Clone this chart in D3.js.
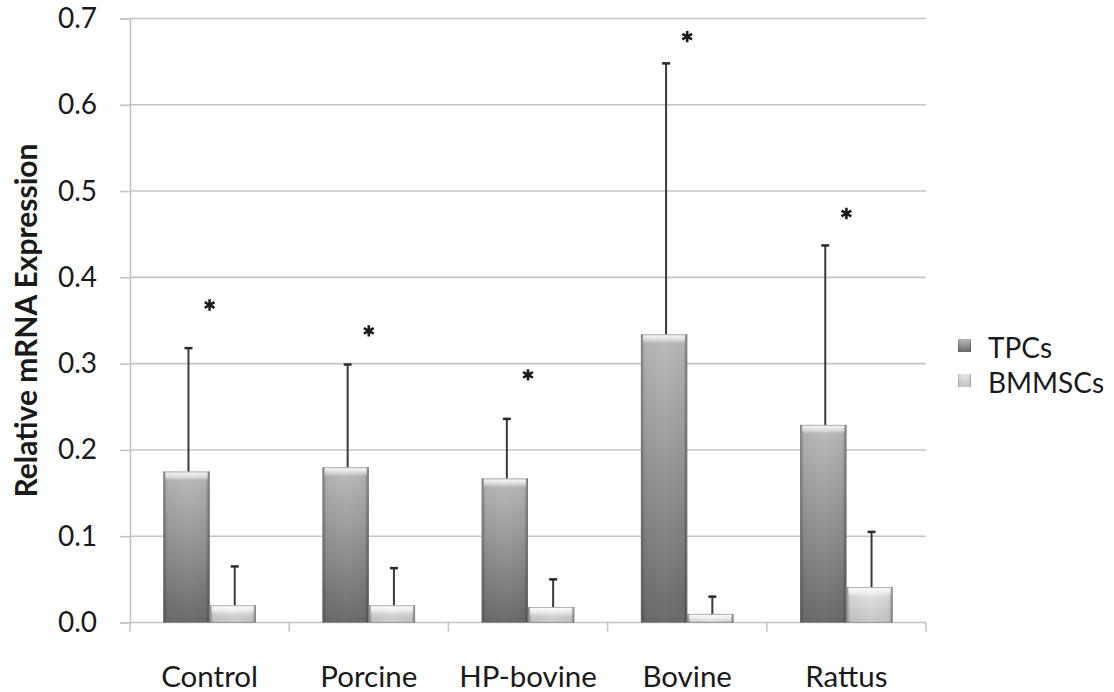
<!DOCTYPE html>
<html>
<head>
<meta charset="utf-8">
<script src="https://cdn.jsdelivr.net/npm/d3@7"></script>
<style>
  body { margin: 0; background: #fff; }
  text { font-family: Lato, "Open Sans", sans-serif; fill: #1a1a1a; }
</style>
</head>
<body>
<svg id="chart"></svg>
<script>
// data
const categories = ['Control', 'Porcine', 'HP-bovine', 'Bovine', 'Rattus'];
const seriesNames = ['TPCs', 'BMMSCs'];
const tpcValues = [0.175, 0.180, 0.167, 0.334, 0.229];
const tpcErrors = [0.143, 0.119, 0.069, 0.314, 0.208];
const bmValues = [0.020, 0.020, 0.018, 0.010, 0.041];
const bmErrors = [0.045, 0.043, 0.032, 0.020, 0.064];
const starLevels = [0.368, 0.338, 0.287, 0.679, 0.474];
const yTicks = [0, 0.1, 0.2, 0.3, 0.4, 0.5, 0.6, 0.7];

const config = {
    width: 1114,
    height: 692,
    margin: { top: 18.5, right: 188, bottom: 69.5, left: 130 }
};
const innerW = config.width - config.margin.left - config.margin.right;
const innerH = config.height - config.margin.top - config.margin.bottom;

const svg = d3.select('#chart')
    .attr('width', config.width)
    .attr('height', config.height);

// gradients for the bevelled bars
const defs = svg.append('defs');
function vGrad(id, stops) {
    const g = defs.append('linearGradient').attr('id', id)
        .attr('x1', 0).attr('y1', 0).attr('x2', 0).attr('y2', 1);
    stops.forEach(s => g.append('stop').attr('offset', s[0]).attr('stop-color', s[1]));
}
vGrad('grad-tpc', [[0, '#bdbdbd'], [1, '#6c6c6c']]);
vGrad('grad-bm', [[0, '#e8e8e8'], [1, '#c6c6c6']]);
const side = defs.append('linearGradient').attr('id', 'grad-side')
    .attr('x1', 0).attr('y1', 0).attr('x2', 1).attr('y2', 0);
[[0, 0.35], [0.08, 0.05], [0.5, 0], [0.92, 0.05], [1, 0.4]].forEach(s =>
    side.append('stop').attr('offset', s[0]).attr('stop-color', '#000').attr('stop-opacity', s[1]));
const bevel = defs.append('linearGradient').attr('id', 'grad-bevel')
    .attr('x1', 0).attr('y1', 0).attr('x2', 0).attr('y2', 1);
[[0, 0.95], [0.6, 0.5], [1, 0]].forEach(s =>
    bevel.append('stop').attr('offset', s[0]).attr('stop-color', '#fff').attr('stop-opacity', s[1]));

const chart = svg.append('g')
    .attr('transform', `translate(${config.margin.left},${config.margin.top})`);

const yScale = d3.scaleLinear().domain([0, 0.7]).range([innerH, 0]);
const xScale = d3.scaleBand().domain(categories).range([0, innerW]).paddingInner(0).paddingOuter(0);
const subScale = d3.scaleBand().domain(seriesNames)
    .range([0, xScale.bandwidth()]).paddingInner(0).paddingOuter(0.72);

// gridlines
chart.append('g')
    .selectAll('line')
    .data(yTicks.slice(1))
    .join('line')
    .attr('x1', 0).attr('x2', innerW)
    .attr('y1', d => yScale(d)).attr('y2', d => yScale(d))
    .attr('stroke', '#c4c4c4').attr('stroke-width', 1.6);

// y axis
const yAxis = d3.axisLeft(yScale).tickValues(yTicks).tickFormat(d3.format('.1f'))
    .tickSize(10).tickPadding(23);
chart.append('g').attr('class', 'y-axis').call(yAxis)
    .call(g => g.selectAll('line, path').attr('stroke', '#c4c4c4').attr('stroke-width', 1.6))
    .call(g => g.selectAll('text').attr('font-size', 28).attr('fill', '#1a1a1a')
        .style('font-family', 'Lato, sans-serif'));

// x axis (ticks at category boundaries)
const xAxisG = chart.append('g').attr('transform', `translate(0,${innerH})`);
xAxisG.append('line').attr('x1', 0).attr('x2', innerW)
    .attr('stroke', '#c4c4c4').attr('stroke-width', 1.6);
xAxisG.selectAll('.xtick')
    .data(d3.range(categories.length + 1))
    .join('line')
    .attr('class', 'xtick')
    .attr('x1', i => i * xScale.step()).attr('x2', i => i * xScale.step())
    .attr('y1', 0).attr('y2', 9)
    .attr('stroke', '#c4c4c4').attr('stroke-width', 1.6);
xAxisG.selectAll('.xlabel')
    .data(categories)
    .join('text')
    .attr('class', 'xlabel')
    .attr('x', d => xScale(d) + xScale.bandwidth() / 2)
    .attr('y', 64)
    .attr('text-anchor', 'middle')
    .attr('font-size', 29.5)
    .text(d => d);

// bars
const rows = categories.map((c, i) => ({
    cat: c,
    bars: [
        { key: 'TPCs', value: tpcValues[i], err: tpcErrors[i], fill: 'url(#grad-tpc)' },
        { key: 'BMMSCs', value: bmValues[i], err: bmErrors[i], fill: 'url(#grad-bm)' }
    ]
}));

const groups = chart.selectAll('.group')
    .data(rows)
    .join('g')
    .attr('class', 'group')
    .attr('transform', d => `translate(${xScale(d.cat)},0)`);

const bars = groups.selectAll('.bar')
    .data(d => d.bars)
    .join('g')
    .attr('class', 'bar')
    .attr('transform', d => `translate(${subScale(d.key)},0)`);

const bw = subScale.bandwidth();
bars.append('rect')
    .attr('x', 0).attr('width', bw)
    .attr('y', d => yScale(d.value))
    .attr('height', d => innerH - yScale(d.value))
    .attr('fill', d => d.fill);
bars.append('rect')
    .attr('x', 0).attr('width', bw)
    .attr('y', d => yScale(d.value))
    .attr('height', d => innerH - yScale(d.value))
    .attr('fill', 'url(#grad-side)');
bars.append('rect')
    .attr('x', 2).attr('width', bw - 4)
    .attr('y', d => yScale(d.value))
    .attr('height', d => Math.min(9, innerH - yScale(d.value)))
    .attr('fill', 'url(#grad-bevel)');
bars.append('rect')
    .attr('x', 0.5).attr('width', bw - 1)
    .attr('y', d => yScale(d.value) + 0.5)
    .attr('height', d => innerH - yScale(d.value) - 0.5)
    .attr('fill', 'none')
    .attr('stroke', '#808080').attr('stroke-opacity', 0.6);

// error bars (upper only)
bars.append('line')
    .attr('x1', bw / 2 + 2).attr('x2', bw / 2 + 2)
    .attr('y1', d => yScale(d.value))
    .attr('y2', d => yScale(d.value + d.err))
    .attr('stroke', '#3a3a3a').attr('stroke-width', 2);
bars.append('line')
    .attr('x1', bw / 2 - 2).attr('x2', bw / 2 + 6)
    .attr('y1', d => yScale(d.value + d.err))
    .attr('y2', d => yScale(d.value + d.err))
    .attr('stroke', '#2a2a2a').attr('stroke-width', 2.5);

// significance stars
const star = d3.symbol().type(d3.symbolAsterisk).size(90);
groups.append('path')
    .attr('transform', (d, i) => `translate(${xScale.bandwidth() / 2},${yScale(starLevels[i])})`)
    .attr('d', star)
    .attr('fill', 'none')
    .attr('stroke', '#1a1a1a')
    .attr('stroke-width', 2.6);

// y axis title
svg.append('text')
    .attr('transform', `translate(37,${config.margin.top + innerH / 2}) rotate(-90)`)
    .attr('text-anchor', 'middle')
    .attr('font-size', 30)
    .attr('font-weight', 'bold')
    .text('Relative mRNA Expression');

// legend
const legend = svg.append('g').attr('transform', 'translate(958,339)');
const legendFills = ['url(#grad-tpc)', 'url(#grad-bm)'];
const items = legend.selectAll('.item')
    .data(seriesNames)
    .join('g')
    .attr('class', 'item')
    .attr('transform', (d, i) => `translate(0,${i * 35})`);
items.append('rect')
    .attr('width', 13).attr('height', 13)
    .attr('fill', (d, i) => legendFills[i]);
items.append('rect')
    .attr('width', 13).attr('height', 13)
    .attr('fill', 'url(#grad-side)');
items.append('text')
    .attr('x', 30).attr('y', 19)
    .attr('font-size', 28)
    .text(d => d);
</script>
</body>
</html>
